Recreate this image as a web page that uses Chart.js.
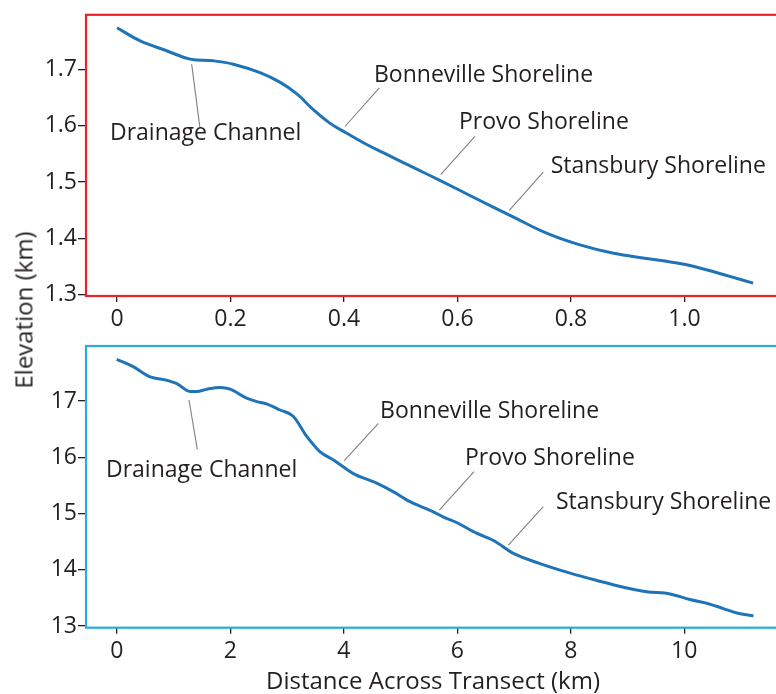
<!DOCTYPE html>
<html>
<head>
<meta charset="utf-8">
<script src="https://cdn.jsdelivr.net/npm/chart.js@4/dist/chart.umd.min.js"></script>
<style>
  html, body { margin: 0; padding: 0; background: #fff; }
  #wrap { position: relative; width: 776px; height: 694px; overflow: hidden; background: #fff; }
  canvas { position: absolute; left: 0; }
  #topChart { top: 0; }
  #bottomChart { top: 330px; }
  #yTitle {
    position: absolute; left: 23px; top: 310px;
    transform: translate(-50%, -50%) rotate(-90deg);
    font-family: "Open Sans", sans-serif; font-size: 24px; color: #231f20;
    white-space: nowrap;
  }
</style>
</head>
<body>
<div id="wrap">
  <canvas id="topChart" width="800" height="340"></canvas>
  <canvas id="bottomChart" width="800" height="364"></canvas>
  <div id="yTitle">Elevation (km)</div>
</div>
<script>
// Elevation profile along the transect, coarse resolution (km)
const topDistance = [0, 0.04, 0.0875, 0.129, 0.17, 0.205, 0.252, 0.287, 0.317, 0.346, 0.375, 0.405, 0.44, 0.47, 0.5, 0.522, 0.569, 0.628, 0.698, 0.757, 0.816, 0.875, 0.933, 0.992, 1.027, 1.08, 1.121];
const topElevation = [1.775, 1.752, 1.734, 1.719, 1.716, 1.710, 1.695, 1.678, 1.657, 1.629, 1.605, 1.587, 1.567, 1.552, 1.537, 1.526, 1.503, 1.473, 1.438, 1.409, 1.388, 1.373, 1.364, 1.355, 1.347, 1.332, 1.320];
const topXTicks = [0, 0.2, 0.4, 0.6, 0.8, 1.0];
const topXLabels = ['0', '0.2', '0.4', '0.6', '0.8', '1.0'];
const topYTicks = [1.3, 1.4, 1.5, 1.6, 1.7];
const topYLabels = ['1.3', '1.4', '1.5', '1.6', '1.7'];

// Elevation profile along the transect, fine resolution
const bottomDistance = [0, 0.29, 0.59, 0.88, 1.06, 1.29, 1.41, 1.59, 1.82, 2.0, 2.29, 2.47, 2.64, 2.88, 3.11, 3.35, 3.58, 3.82, 3.99, 4.17, 4.58, 4.87, 5.17, 5.58, 5.75, 5.99, 6.34, 6.64, 6.99, 7.46, 7.99, 8.46, 8.93, 9.34, 9.75, 10.10, 10.45, 10.69, 10.93, 11.22];
const bottomElevation = [17.74, 17.61, 17.43, 17.37, 17.31, 17.17, 17.17, 17.21, 17.24, 17.21, 17.05, 16.99, 16.95, 16.84, 16.73, 16.37, 16.10, 15.95, 15.83, 15.71, 15.54, 15.39, 15.21, 15.03, 14.94, 14.84, 14.65, 14.52, 14.29, 14.11, 13.94, 13.81, 13.69, 13.61, 13.57, 13.47, 13.39, 13.31, 13.23, 13.18];
const bottomXTicks = [0, 2, 4, 6, 8, 10];
const bottomXLabels = ['0', '2', '4', '6', '8', '10'];
const bottomYTicks = [13, 14, 15, 16, 17];
const bottomYLabels = ['13', '14', '15', '16', '17'];

// Callout names
const calloutNames = ['Drainage Channel', 'Bonneville Shoreline', 'Provo Shoreline', 'Stansbury Shoreline'];

// Callout placement in data units: leader line start/end and text anchor (left, middle)
const topCalloutPlacement = [
  { from: [0.1316, 1.710], to: [0.146, 1.598], at: [-0.0123, 1.5865] },
  { from: [0.4018, 1.599], to: [0.4622, 1.6677], at: [0.4529, 1.6895] },
  { from: [0.5704, 1.5131], to: [0.6308, 1.5812], at: [0.6026, 1.606] },
  { from: [0.6913, 1.4497], to: [0.7512, 1.5178], at: [0.7642, 1.5284] }
];
const bottomCalloutPlacement = [
  { from: [1.274, 17.018], to: [1.420, 16.141], at: [-0.189, 15.773] },
  { from: [4.011, 15.939], to: [4.610, 16.604], at: [4.640, 16.81] },
  { from: [5.685, 15.062], to: [6.296, 15.743], at: [6.137, 15.98] },
  { from: [6.900, 14.44], to: [7.517, 15.121], at: [7.741, 15.19] }
];

const FONT = '"Open Sans", sans-serif';
const INK = '#231f20';
const LINE_BLUE = '#1f74b8';

// Frame around the plot area plus labelled leader lines
const framePlugin = {
  id: 'frameAndCallouts',
  afterDatasetsDraw(chart) {
    const o = chart.options.plugins.frameAndCallouts;
    const { ctx, chartArea: a, scales: { x, y } } = chart;
    ctx.save();
    ctx.strokeStyle = o.frameColor;
    ctx.lineWidth = 2.2;
    ctx.strokeRect(a.left, a.top, a.right - a.left, a.bottom - a.top);

    o.placement.forEach((p, i) => {
      ctx.strokeStyle = '#808080';
      ctx.lineWidth = 1.1;
      ctx.beginPath();
      ctx.moveTo(x.getPixelForValue(p.from[0]), y.getPixelForValue(p.from[1]));
      ctx.lineTo(x.getPixelForValue(p.to[0]), y.getPixelForValue(p.to[1]));
      ctx.stroke();
      ctx.fillStyle = INK;
      ctx.font = '23px ' + FONT;
      ctx.textAlign = 'left';
      ctx.textBaseline = 'middle';
      ctx.fillText(calloutNames[i], x.getPixelForValue(p.at[0]), y.getPixelForValue(p.at[1]));
    });
    ctx.restore();
  }
};

function makeChart(id, cfg) {
  const points = cfg.xs.map((v, i) => ({ x: v, y: cfg.ys[i] }));
  return new Chart(document.getElementById(id), {
    type: 'line',
    data: {
      datasets: [{
        data: points,
        borderColor: LINE_BLUE,
        borderWidth: 3,
        pointRadius: 0,
        fill: false,
        tension: cfg.tension,
        cubicInterpolationMode: cfg.interp
      }]
    },
    options: {
      responsive: false,
      animation: false,
      events: [],
      layout: { padding: { top: cfg.padTop, right: 20, left: 0, bottom: 0 } },
      plugins: {
        legend: { display: false },
        tooltip: { enabled: false },
        frameAndCallouts: { frameColor: cfg.frameColor, placement: cfg.placement }
      },
      scales: {
        x: {
          type: 'linear',
          min: cfg.xMin, max: cfg.xMax,
          afterBuildTicks: s => { s.ticks = cfg.xTicks.map(v => ({ value: v })); },
          afterFit: s => { s.height = cfg.xHeight; },
          ticks: {
            autoSkip: false, maxRotation: 0, padding: 4,
            color: INK, font: { family: FONT, size: 23 },
            callback: (v, i) => cfg.xLabels[i]
          },
          grid: { drawOnChartArea: false, drawTicks: true, tickLength: 6, color: INK, lineWidth: 1.3 },
          border: { display: false },
          title: cfg.xTitle ? {
            display: true, text: cfg.xTitle, color: INK,
            font: { family: FONT, size: 24, lineHeight: 1.0 }, padding: { top: 0, bottom: 0 }
          } : { display: false }
        },
        y: {
          type: 'linear',
          min: cfg.yMin, max: cfg.yMax,
          afterBuildTicks: s => { s.ticks = cfg.yTicks.map(v => ({ value: v })); },
          afterFit: s => { s.width = 86; },
          ticks: {
            autoSkip: false, padding: 1,
            color: INK, font: { family: FONT, size: 23 },
            callback: (v, i) => cfg.yLabels[i]
          },
          grid: { drawOnChartArea: false, drawTicks: true, tickLength: 8, color: INK, lineWidth: 1.3 },
          border: { display: false }
        }
      }
    },
    plugins: [framePlugin]
  });
}

makeChart('topChart', {
  xs: topDistance, ys: topElevation,
  xTicks: topXTicks, xLabels: topXLabels, yTicks: topYTicks, yLabels: topYLabels,
  xMin: -0.0546, xMax: 1.1684, yMin: 1.297, yMax: 1.798,
  padTop: 14, xHeight: 44, tension: 0.4, interp: 'default',
  frameColor: '#ec2027', placement: topCalloutPlacement
});

makeChart('bottomChart', {
  xs: bottomDistance, ys: bottomElevation,
  xTicks: bottomXTicks, xLabels: bottomXLabels, yTicks: bottomYTicks, yLabels: bottomYLabels,
  xMin: -0.541, xMax: 11.688, yMin: 12.97, yMax: 17.978,
  padTop: 16, xHeight: 66.3, tension: 0.4, interp: 'monotone',
  xTitle: 'Distance Across Transect (km)',
  frameColor: '#29abe2', placement: bottomCalloutPlacement
});
</script>
</body>
</html>
